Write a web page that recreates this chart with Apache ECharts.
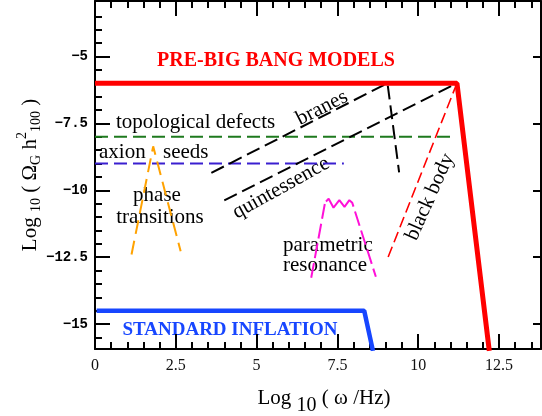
<!DOCTYPE html>
<html>
<head>
<meta charset="utf-8">
<script src="https://cdn.jsdelivr.net/npm/echarts@6/dist/echarts.min.js"></script>
<style>
  html, body { margin: 0; padding: 0; background: #fff; }
  #chart { width: 542px; height: 416px; }
</style>
</head>
<body>
<div id="chart"></div>
<script>
// tick positions
var xMajorTicks = [0, 2.5, 5, 7.5, 10, 12.5]
var xMinorTicks = [0.5, 1, 1.5, 2, 3, 3.5, 4, 4.5, 5.5, 6, 6.5, 7, 8, 8.5, 9, 9.5, 10.5, 11, 11.5, 12, 13, 13.5]
var yMajorTicks = [-15, -12.5, -10, -7.5, -5]
var yMinorTicks = [-15.5, -14.5, -14, -13.5, -13, -12, -11.5, -11, -10.5, -9.5, -9, -8.5, -8, -7, -6.5, -6, -5.5, -4.5, -4, -3.5]

// curves: [log10(w/Hz), log10(Omega_G h^2_100)]
var preBigBang = [[0, -6], [11.2, -6], [12.2, -16]]
var standardInflation = [[0.05, -14.5], [8.33, -14.5], [8.6, -16]]
var topologicalDefects = [[0, -8], [11.1, -8]]
var axionSeeds = [[0, -9], [7.7, -9]]
var branes = [[3.6, -9.35], [9.05, -6], [9.41, -9.33]]
var quintessence = [[4.0, -10.38], [11.2, -6]]
var blackBody = [[11.2, -6], [9.02, -12.65]]
var phaseTransitions = [[1.13, -12.4], [1.8, -8.36], [2.65, -12.28]]
var parametricResonance = [[6.69, -13.27], [7.12, -10.45], [7.23, -10.32], [7.38, -10.65], [7.56, -10.37], [7.72, -10.62], [7.87, -10.37], [7.96, -10.47], [8.69, -13.23]]

var X_MIN = 0, X_MAX = 13.8
var Y_MIN = -15.93, Y_MAX = -2.93
var serif = 'Liberation Serif'

function curve(name, data, color, width, dash) {
  return {
    name: name,
    type: 'line',
    data: data,
    symbol: 'none',
    silent: true,
    lineStyle: { color: color, width: width, type: dash || 'solid' }
  }
}

function tickAxis(position, ticks, length, withLine, labels) {
  var isX = position === 'bottom' || position === 'top'
  var axis = {
    type: 'value',
    position: position,
    min: isX ? X_MIN : Y_MIN,
    max: isX ? X_MAX : Y_MAX,
    axisLine: { show: withLine, onZero: false, lineStyle: { color: '#000', width: 2 } },
    axisTick: { inside: true, length: length, customValues: ticks, lineStyle: { color: '#000', width: 2 } },
    axisLabel: { show: false },
    splitLine: { show: false }
  }
  if (labels) axis.axisLabel = labels
  return axis
}

function txt(text, x, y, font, color, rot, align) {
  return {
    type: 'text',
    x: x,
    y: y,
    rotation: (rot || 0) * Math.PI / 180,
    silent: true,
    style: {
      text: text,
      font: font,
      fill: color || '#000',
      align: align || 'center',
      verticalAlign: 'middle'
    }
  }
}

// keep the wiggly top of the resonance bump in one long dash
var resonanceDash = [15, 5, 15, 5, 15, 5, 15, 3, 48, 5, 15, 5, 15, 5, 15, 5, 15, 5]

var chart = echarts.init(document.getElementById('chart'))
chart.setOption({
  animation: false,
  backgroundColor: '#fff',
  grid: { left: 95, right: 1, top: 1, bottom: 67 },
  xAxis: [
    tickAxis('bottom', xMajorTicks, 15, true, {
      customValues: xMajorTicks, margin: 9, color: '#111',
      fontFamily: serif, fontSize: 16
    }),
    tickAxis('bottom', xMinorTicks, 7, false),
    tickAxis('top', xMajorTicks, 15, true),
    tickAxis('top', xMinorTicks, 7, false)
  ],
  yAxis: [
    tickAxis('left', yMajorTicks, 15, true, {
      customValues: yMajorTicks, margin: 7, color: '#000',
      fontFamily: 'Liberation Mono', fontWeight: 'bold', fontSize: 14,
      formatter: function (v) { return String(v).replace('-', '\u2212') }
    }),
    tickAxis('left', yMinorTicks, 7, false),
    tickAxis('right', yMajorTicks, 8, true)
  ],
  series: [
    curve('topological defects', topologicalDefects, '#1e7a1e', 2, [13, 6]),
    curve('axion seeds', axionSeeds, '#3a1fd0', 2, [13, 6]),
    curve('branes', branes, '#000', 2, [14, 6]),
    curve('quintessence', quintessence, '#000', 2, [14, 6]),
    curve('black body', blackBody, '#ff0000', 1.6, [11, 5]),
    curve('phase transitions', phaseTransitions, '#ffa200', 2, [14, 7]),
    curve('parametric resonance', parametricResonance, '#ff10d8', 2, resonanceDash),
    curve('pre-big bang', preBigBang, '#ff0000', 5),
    curve('standard inflation', standardInflation, '#1746ff', 4.5)
  ],
  graphic: [
    txt('PRE-BIG BANG MODELS', 276, 61, 'bold 20px ' + serif, '#ff0000'),
    txt('STANDARD INFLATION', 230, 330, 'bold 19px ' + serif, '#1746ff'),
    txt('topological defects', 116, 122, '21px ' + serif, '#000', 0, 'left'),
    txt('axion', 99, 152, '21px ' + serif, '#000', 0, 'left'),
    txt('seeds', 163, 152, '21px ' + serif, '#000', 0, 'left'),
    txt('phase', 157, 195, '21px ' + serif),
    txt('transitions', 160, 217, '21px ' + serif),
    txt('parametric', 283, 245, '21px ' + serif, '#000', 0, 'left'),
    txt('resonance', 283, 265, '21px ' + serif, '#000', 0, 'left'),
    txt('branes', 322, 108, '21px ' + serif, '#000', 27),
    txt('quintessence', 281, 188, '21px ' + serif, '#000', 29),
    txt('black body', 430, 197, '21px ' + serif, '#000', 66),
    {
      type: 'text', x: 324, y: 400, silent: true,
      style: {
        text: '{a|Log }{b|10}{a| ( \u03c9 /Hz)}',
        align: 'center', verticalAlign: 'middle',
        rich: {
          a: { fontFamily: serif, fontSize: 21, lineHeight: 24, verticalAlign: 'top', fill: '#000' },
          b: { fontFamily: serif, fontSize: 20, lineHeight: 24, verticalAlign: 'top', padding: [8, 0, 0, 0], fill: '#000' }
        }
      }
    },
    {
      type: 'text', x: 26, y: 175, rotation: Math.PI / 2, silent: true,
      style: {
        text: '{a|Log }{s|10}{a| ( \u03a9}{s|G}{a| h}{p|2}{s|100}{a| )}',
        align: 'center', verticalAlign: 'middle',
        rich: {
          a: { fontFamily: serif, fontSize: 21, lineHeight: 24, verticalAlign: 'top', padding: [6, 0, 0, 0], fill: '#000' },
          s: { fontFamily: serif, fontSize: 14, lineHeight: 16, verticalAlign: 'top', padding: [15, 0, 0, 0], fill: '#000' },
          p: { fontFamily: serif, fontSize: 14, lineHeight: 16, verticalAlign: 'top', padding: [1, 0, 0, 0], fill: '#000' }
        }
      }
    }
  ]
})
</script>
</body>
</html>
